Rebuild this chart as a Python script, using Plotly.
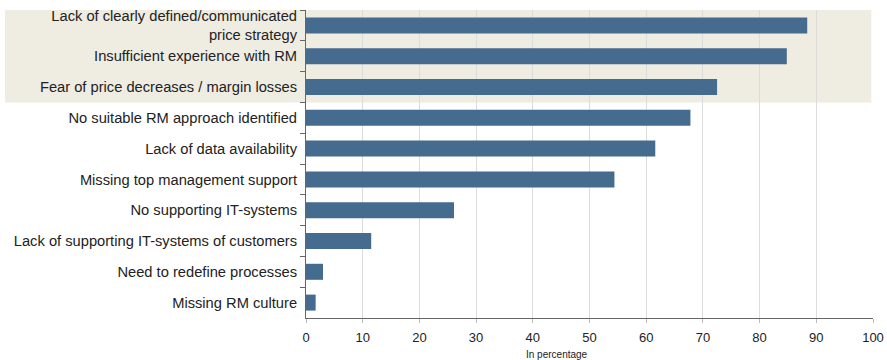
import plotly.graph_objects as go

categories = [
    "Lack of clearly defined/communicated<br>price strategy",
    "Insufficient experience with RM",
    "Fear of price decreases / margin losses",
    "No suitable RM approach identified",
    "Lack of data availability",
    "Missing top management support",
    "No supporting IT-systems",
    "Lack of supporting IT-systems of customers",
    "Need to redefine processes",
    "Missing RM culture",
]
values = [88.4, 84.8, 72.5, 67.8, 61.6, 54.4, 26.1, 11.5, 3.0, 1.7]
x_ticks = [0, 10, 20, 30, 40, 50, 60, 70, 80, 90, 100]

fig = go.Figure(
    go.Bar(
        x=values,
        y=categories,
        orientation="h",
        marker=dict(color="#456b8e", line=dict(width=0)),
        width=0.52,
        hoverinfo="x+y",
    )
)

# Highlight band behind the top three reasons
fig.add_shape(
    type="rect",
    xref="x domain",
    yref="y",
    x0=-0.531,
    x1=0.997,
    y0=-0.5,
    y1=2.5,
    fillcolor="#efece2",
    line=dict(width=0),
    layer="below",
)

# Axis title
fig.add_annotation(
    text="In percentage",
    xref="paper",
    yref="paper",
    x=0.443,
    y=-0.117,
    xanchor="center",
    yanchor="middle",
    showarrow=False,
    font=dict(size=10, color="#222222"),
)

fig.update_layout(
    width=887,
    height=360,
    margin=dict(l=306, r=14, t=10, b=42),
    paper_bgcolor="white",
    plot_bgcolor="white",
    showlegend=False,
    font=dict(family="Liberation Sans, Arial, sans-serif", color="#222222"),
    bargap=0.48,
)

fig.update_xaxes(
    range=[0, 100],
    tickvals=x_ticks,
    ticktext=[str(v) for v in x_ticks],
    showgrid=True,
    gridcolor="#dcdcdc",
    gridwidth=1,
    zeroline=False,
    showline=True,
    linecolor="#666666",
    linewidth=1,
    ticks="outside",
    ticklen=4,
    tickcolor="#bbbbbb",
    ticklabelstandoff=3,
    tickfont=dict(size=13, color="#222222"),
    automargin=False,
)

fig.update_yaxes(
    categoryorder="array",
    categoryarray=categories,
    autorange=False,
    range=[9.5, -0.5],
    showgrid=False,
    zeroline=False,
    showline=True,
    linecolor="#666666",
    linewidth=1,
    ticks="outside",
    tickson="boundaries",
    ticklen=5,
    tickcolor="#666666",
    ticklabelstandoff=5,
    tickfont=dict(size=14.7, color="#222222"),
    automargin=False,
)

fig.write_html("out.html")
